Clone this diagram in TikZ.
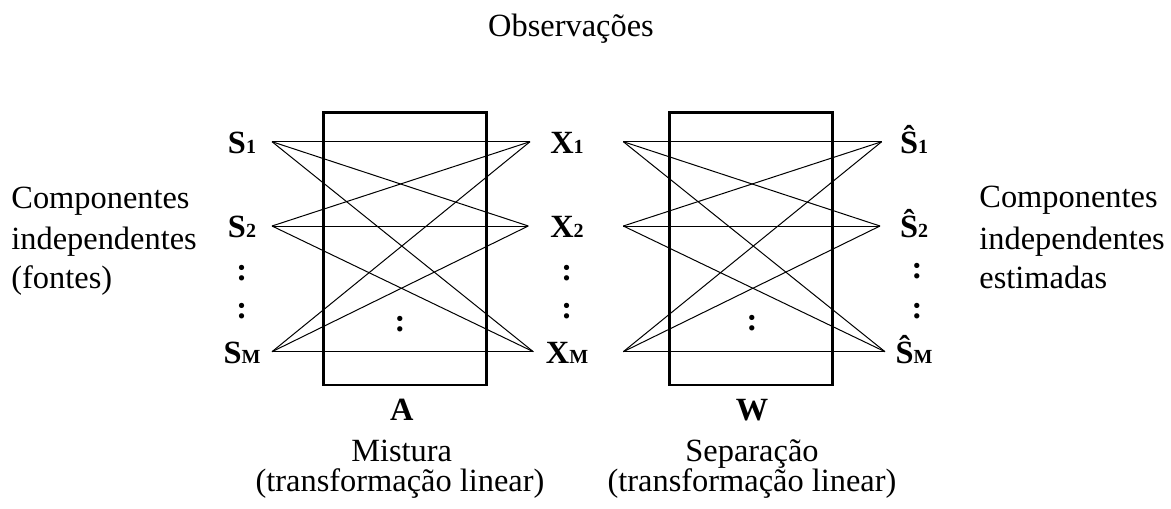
\documentclass[tikz,border=0pt]{standalone}
\usepackage{fontspec}
\setmainfont{Liberation Serif}
\begin{document}
\begin{tikzpicture}[x=0.5pt,y=-0.5pt,
  txt/.style={anchor=base,inner sep=0pt,font=\fontsize{16.2}{20}\selectfont},
  txtw/.style={anchor=base west,inner sep=0pt,font=\fontsize{16.2}{20}\selectfont},
  lbl/.style={anchor=base,inner sep=0pt,font=\fontsize{16.2}{20}\selectfont\bfseries},
  mbox/.style={draw,line width=1.3pt,inner sep=0pt,minimum width=81.5pt,minimum height=136.2pt},
  wire/.style={line width=0.5pt}]
\useasboundingbox (0,0) rectangle (1171,508);
\newcommand{\sbx}[1]{{\fontsize{10}{10}\selectfont\bfseries #1}}
% endpoints
\coordinate (a1) at (272,141.7);
\coordinate (a2) at (272,226);
\coordinate (a3) at (272,351.7);
\coordinate (b1) at (530,141.7);
\coordinate (b2) at (528.3,226);
\coordinate (b3) at (533.3,351.7);
\coordinate (c1) at (623.3,141.7);
\coordinate (c2) at (623.3,226);
\coordinate (c3) at (623.3,351.7);
\coordinate (d1) at (881.7,141.7);
\coordinate (d2) at (880,226);
\coordinate (d3) at (885,351.7);
\foreach \i in {1,2,3}{
  \foreach \j in {1,2,3}{
    \draw[wire] (a\i) -- (b\j);
    \draw[wire] (c\i) -- (d\j);
  }
}
% boxes
\node[mbox] (boxA) at (405,248.85) {};
\node[mbox] (boxW) at (751.2,248.85) {};
% labels left
\node[lbl] (s1) at (242,153.3) {S\sbx{1}};
\node[lbl] (s2) at (242,237.6) {S\sbx{2}};
\node[lbl] (sm) at (242,363.3) {S\sbx{M}};
\node[lbl] (sd1) at (241.7,280) {:};
\node[lbl] (sd2) at (241.7,318.3) {:};
% labels X
\node[lbl] (x1) at (567,153.3) {X\sbx{1}};
\node[lbl] (x2) at (567,237.6) {X\sbx{2}};
\node[lbl] (xm) at (567,363.3) {X\sbx{M}};
\node[lbl] (xd1) at (566.7,280) {:};
\node[lbl] (xd2) at (566.7,318.3) {:};
% labels S hat
\node[lbl] (h1) at (914,153.3) {Ŝ\sbx{1}};
\node[lbl] (h2) at (914,237.6) {Ŝ\sbx{2}};
\node[lbl] (hm) at (914,363.3) {Ŝ\sbx{M}};
\node[lbl] (hd1) at (917,278) {:};
\node[lbl] (hd2) at (917,318) {:};
% inner dots
\node[lbl] (ad) at (400,331.7) {:};
\node[lbl] (wd) at (752,330.5) {:};
% top
\node[txt] (obs) at (571,36.7) {Observações};
% left text
\node[txtw] (l1) at (11,208.3) {Componentes};
\node[txtw] (l2) at (11,249) {independentes};
\node[txtw] (l3) at (11,288) {(fontes)};
% right text
\node[txtw] (r1) at (979,207.7) {Componentes};
\node[txtw] (r2) at (979,249) {independentes};
\node[txtw] (r3) at (979,288) {estimadas};
% bottom
\node[lbl] (la) at (401.7,420) {A};
\node[txt] (ma) at (401.7,461.7) {Mistura};
\node[txt] (ta) at (400,491.7) {(transformação linear)};
\node[lbl] (lw) at (752,420) {W};
\node[txt] (mw) at (752,461.7) {Separação};
\node[txt] (tw) at (752,491.7) {(transformação linear)};
\end{tikzpicture}
\end{document}
